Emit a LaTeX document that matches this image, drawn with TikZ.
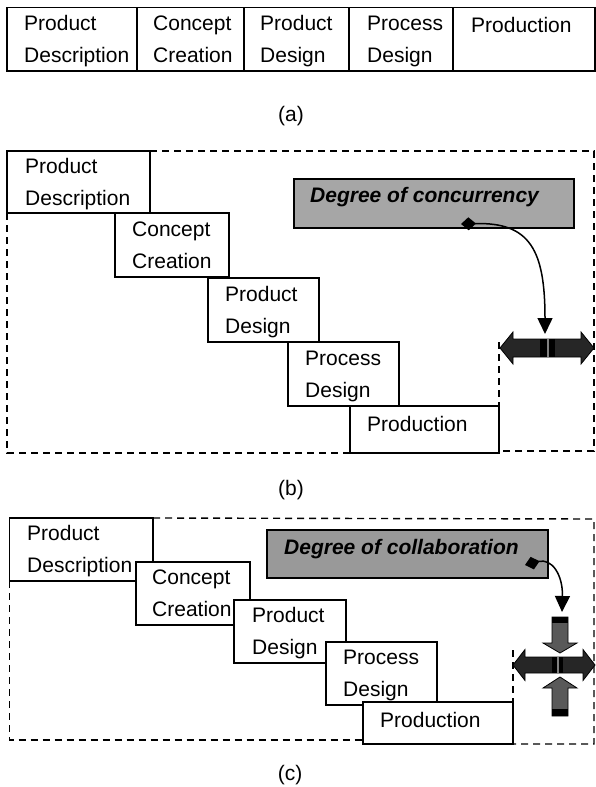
\documentclass[tikz,border=0pt]{standalone}
\usepackage{fontspec}
\setmainfont{Liberation Sans}
\usetikzlibrary{arrows.meta}
\definecolor{degb}{HTML}{A6A6A6}
\definecolor{degc}{HTML}{999999}
\definecolor{harr}{HTML}{262626}
\definecolor{varr}{HTML}{595959}
\newcommand\pbox[5]{\node[box,anchor=north west,minimum width={#4-#2},minimum height={#5-#3}] (#1) at (#2,#3) {};}
\begin{document}
\begin{tikzpicture}[x=1pt,y=-1pt,
  box/.style={draw,fill=white,line width=1.6pt,inner sep=0pt,outer sep=0pt},
  lbl/.style={font=\fontsize{21}{32}\selectfont,align=left,inner sep=0pt,anchor=base west},
  sublbl/.style={font=\fontsize{21}{25}\selectfont,inner sep=0pt},
  dtxt/.style={font=\fontsize{21}{25}\selectfont\bfseries\itshape,inner sep=0pt,anchor=base west},
  dline/.style={line width=1.4pt,dash pattern=on 7pt off 5pt},
  conn/.style={line width=1.5pt,{Diamond[length=15pt,width=13pt]}-{Triangle[length=16pt,width=15pt]}},
  blockh/.style={fill=harr,draw=black,line width=0.8pt},
  blockv/.style={fill=varr,draw=black,line width=0.8pt}]
\useasboundingbox (0,0) rectangle (596,787);

% ---------- (a)
\pbox{a1}{6.7}{7.3}{137}{70.7}
\pbox{a2}{137}{7.3}{244}{70.7}
\pbox{a3}{244}{7.3}{349}{70.7}
\pbox{a4}{349}{7.3}{453}{70.7}
\pbox{a5}{453}{7.3}{595}{70.7}
\node[lbl] (ta1) at (24,62) {Product\\Description};
\node[lbl] (ta2) at (153,62) {Concept\\Creation};
\node[lbl] (ta3) at (260,62) {Product\\Design};
\node[lbl] (ta4) at (367,62) {Process\\Design};
\node[lbl] (ta5) at (471,32) {Production};
\node[sublbl] (la) at (291,116) {(a)};

% ---------- (b)
\coordinate (bTR) at (594,151);
\coordinate (bBR) at (594,451);
\coordinate (bBR2) at (499,451);
\coordinate (bBL) at (7,453);
\coordinate (bS1) at (499,342);
\pbox{b1}{7}{151}{150}{213}
\pbox{b2}{115}{213}{229}{277}
\pbox{b3}{208}{278}{319}{342}
\pbox{b4}{288}{342}{399}{406}
\pbox{b5}{350}{406}{499}{453}
\draw[dline] (b1.north east) -- (bTR) -- (bBR) -- (bBR2);
\draw[dline] (b1.south west) -- (bBL) -- (b5.south west);
\draw[dline] (bS1) -- (b5.north east);
\node[lbl] (tb1) at (25,205.3) {Product\\Description};
\node[lbl] (tb2) at (132,268.5) {Concept\\Creation};
\node[lbl] (tb3) at (225,333) {Product\\Design};
\node[lbl] (tb4) at (305,397) {Process\\Design};
\node[lbl] (tb5) at (367,431) {Production};
\node[draw,fill=degb,line width=1.8pt,anchor=north west,minimum width=280,minimum height=49,inner sep=0pt] (degb) at (293,178) {};
\node[dtxt] (degbt) at (310,202) {Degree of concurrency};
% double arrow (b)
\draw[blockh] (500,348) -- (513,332) -- (513,339) -- (581,339) -- (581,332) -- (594,348) -- (581,364) -- (581,357) -- (513,357) -- (513,364) -- cycle;
\fill[black] (540,339) rectangle (555,357);
\fill[gray] (546.5,339) rectangle (548.5,357);
\coordinate (sb) at (461,224);
\coordinate (tipb) at (545,334);
\draw[conn] (sb) .. controls (530,222) and (545,250) .. (tipb);
\node[sublbl] (lb) at (291,490) {(b)};

% ---------- (c)
\coordinate (cTR) at (594,519);
\coordinate (cBR) at (594,744);
\coordinate (cBL) at (9.5,740);
\coordinate (cBL2) at (363,740);
\coordinate (cS1) at (513,650);
\pbox{c1}{9.5}{518}{153}{581}
\pbox{c2}{136}{562}{250}{625}
\pbox{c3}{234}{600}{346}{663}
\pbox{c4}{326}{642}{437}{705}
\pbox{c5}{363}{702}{513}{744}
\draw[dline] (c1.north east) -- (cTR) -- (cBR) -- (c5.south east);
\draw[dline] (c1.south west) -- (cBL) -- (cBL2);
\draw[dline] (cS1) -- (c5.north east);
\node[lbl] (tc1) at (27,572.5) {Product\\Description};
\node[lbl] (tc2) at (152,616.5) {Concept\\Creation};
\node[lbl] (tc3) at (252,654.5) {Product\\Design};
\node[lbl] (tc4) at (343,696.5) {Process\\Design};
\node[lbl] (tc5) at (380,727.5) {Production};
\node[draw,fill=degc,line width=1.8pt,anchor=north west,minimum width=281,minimum height=48,inner sep=0pt] (degc) at (266,529) {};
\node[dtxt] (degct) at (284,554) {Degree of collaboration};
% arrows (c)
\draw[blockh] (513,665) -- (525,649.5) -- (525,657) -- (583,657) -- (583,649.5) -- (595,665) -- (583,680.5) -- (583,673) -- (525,673) -- (525,680.5) -- cycle;
\fill[black] (552,657) rectangle (563,673);
\fill[gray] (557,657) rectangle (558.5,673);
\draw[blockv] (552,617) -- (568,617) -- (568,643) -- (577,643) -- (560,653) -- (543,643) -- (552,643) -- cycle;
\fill[black] (552,617) rectangle (568,623);
\draw[blockv] (560,677) -- (577,688) -- (568,688) -- (568,716) -- (552,716) -- (552,688) -- (543,688) -- cycle;
\fill[black] (552,709) rectangle (568,716);
\coordinate (sc) at (525,565);
\coordinate (tipc) at (562,612);
\draw[conn] (sc) .. controls (552,558) and (563,575) .. (tipc);
\node[sublbl] (lc) at (290,775) {(c)};
\end{tikzpicture}
\end{document}
